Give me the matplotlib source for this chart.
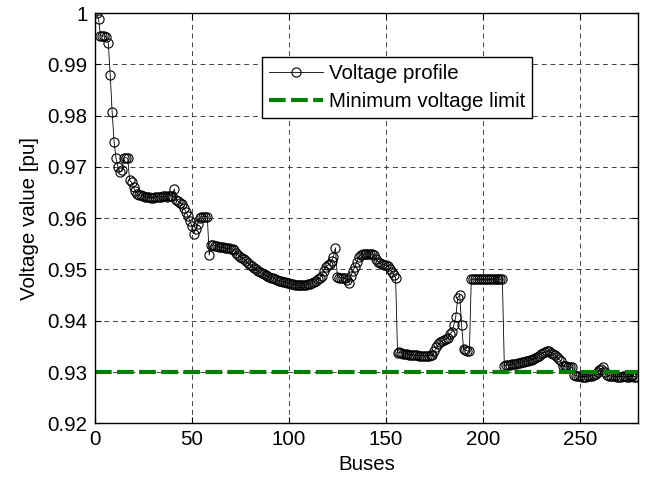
import numpy as np
import matplotlib
matplotlib.use("Agg")
import matplotlib.pyplot as plt

plt.rcParams['font.family'] = ['Liberation Sans', 'DejaVu Sans']
plt.rcParams['font.size'] = 14.8

# voltage at each bus
voltage = [
    1.0000, 0.9988, 0.9956, 0.9955, 0.9955, 0.9953, 0.9942, 0.9880, 0.9807, 0.9749,
    0.9717, 0.9700, 0.9690, 0.9693, 0.9717, 0.9718, 0.9717, 0.9674, 0.9670, 0.9660,
    0.9652, 0.9648, 0.9645, 0.9645, 0.9643, 0.9642, 0.9641, 0.9641, 0.9640, 0.9640,
    0.9641, 0.9642, 0.9641, 0.9642, 0.9643, 0.9643, 0.9642, 0.9643, 0.9644, 0.9643,
    0.9657, 0.9636, 0.9633, 0.9630, 0.9628, 0.9620, 0.9612, 0.9605, 0.9595, 0.9585,
    0.9570, 0.9578, 0.9588, 0.9600, 0.9603, 0.9603, 0.9603, 0.9603, 0.9528, 0.9548,
    0.9548, 0.9546, 0.9545, 0.9544, 0.9543, 0.9543, 0.9542, 0.9541, 0.9541, 0.9540,
    0.9540, 0.9538, 0.9532, 0.9528, 0.9525, 0.9522, 0.9520, 0.9516, 0.9512, 0.9509,
    0.9506, 0.9503, 0.9500, 0.9497, 0.9495, 0.9493, 0.9491, 0.9489, 0.9488, 0.9486,
    0.9484, 0.9483, 0.9481, 0.9479, 0.9478, 0.9477, 0.9476, 0.9475, 0.9474, 0.9473,
    0.9472, 0.9471, 0.9470, 0.9470, 0.9469, 0.9469, 0.9469, 0.9470, 0.9470, 0.9471,
    0.9472, 0.9474, 0.9476, 0.9478, 0.9481, 0.9484, 0.9488, 0.9497, 0.9505, 0.9508,
    0.9510, 0.9517, 0.9525, 0.9542, 0.9486, 0.9484, 0.9484, 0.9483, 0.9483, 0.9480,
    0.9473, 0.9488, 0.9497, 0.9505, 0.9515, 0.9525, 0.9528, 0.9530, 0.9530, 0.9530,
    0.9530, 0.9530, 0.9530, 0.9528, 0.9520, 0.9515, 0.9512, 0.9510, 0.9509, 0.9508,
    0.9507, 0.9500, 0.9495, 0.9490, 0.9484, 0.9338, 0.9339, 0.9338, 0.9336, 0.9335,
    0.9335, 0.9334, 0.9334, 0.9333, 0.9333, 0.9333, 0.9332, 0.9332, 0.9332, 0.9332,
    0.9332, 0.9332, 0.9333, 0.9334, 0.9340, 0.9348, 0.9354, 0.9358, 0.9360, 0.9362,
    0.9364, 0.9366, 0.9375, 0.9378, 0.9392, 0.9408, 0.9445, 0.9450, 0.9392, 0.9345,
    0.9343, 0.9341, 0.9340, 0.9481, 0.9481, 0.9481, 0.9481, 0.9481, 0.9481, 0.9481,
    0.9481, 0.9481, 0.9481, 0.9481, 0.9481, 0.9481, 0.9481, 0.9481, 0.9481, 0.9481,
    0.9312, 0.9313, 0.9314, 0.9314, 0.9315, 0.9315, 0.9316, 0.9317, 0.9318, 0.9319,
    0.9320, 0.9321, 0.9322, 0.9323, 0.9324, 0.9326, 0.9328, 0.9330, 0.9332, 0.9335,
    0.9337, 0.9339, 0.9340, 0.9340, 0.9338, 0.9336, 0.9334, 0.9330, 0.9325, 0.9322,
    0.9312, 0.9311, 0.9311, 0.9310, 0.9310, 0.9309, 0.9295, 0.9293, 0.9292, 0.9292,
    0.9291, 0.9291, 0.9291, 0.9292, 0.9292, 0.9293, 0.9294, 0.9296, 0.9300, 0.9303,
    0.9306, 0.9310, 0.9300, 0.9294, 0.9293, 0.9292, 0.9292, 0.9292, 0.9291, 0.9291,
    0.9291, 0.9292, 0.9292, 0.9291, 0.9291, 0.9292, 0.9292, 0.9291, 0.9291,
]
buses = np.arange(1, len(voltage) + 1)

v_min = 0.93
limit_x = [0, 280]

x_ticks = [0, 50, 100, 150, 200, 250]
y_ticks = [0.92, 0.93, 0.94, 0.95, 0.96, 0.97, 0.98, 0.99, 1.0]
y_labels = ['0.92', '0.93', '0.94', '0.95', '0.96', '0.97', '0.98', '0.99', '1']

fig = plt.figure(figsize=(6.48, 4.82), dpi=100)
ax = fig.add_axes([0.1461, 0.1218, 0.8389, 0.8512])

ax.plot(buses, voltage, color='black', lw=0.6, marker='o', markersize=6.6,
        markerfacecolor='none', markeredgecolor='black', markeredgewidth=0.8,
        label='Voltage profile')
ax.plot(limit_x, [v_min, v_min], color='#008000', lw=3, dashes=(4, 1.3),
        label='Minimum voltage limit')

ax.set_xlim(0, 280)
ax.set_ylim(0.92, 1.0)
ax.set_xticks(x_ticks)
ax.set_yticks(y_ticks)
ax.set_yticklabels(y_labels)
ax.tick_params(direction='in', length=4, top=True, right=True, width=0.8, pad=5)
ax.grid(True, color='#444444', linestyle=(0, (5, 4)), lw=0.7)
for s in ax.spines.values():
    s.set_linewidth(1.0)

ax.set_xlabel('Buses', labelpad=4)
ax.set_ylabel('Voltage value [pu]', labelpad=6)

leg = ax.legend(loc='upper left', bbox_to_anchor=(0.308, 0.893), fancybox=False,
                framealpha=1, edgecolor='black', handlelength=2.6,
                borderaxespad=0, borderpad=0.35, labelspacing=0.42, handletextpad=0.3)
leg.get_frame().set_linewidth(1.0)

fig.savefig('out.png', dpi=100)
